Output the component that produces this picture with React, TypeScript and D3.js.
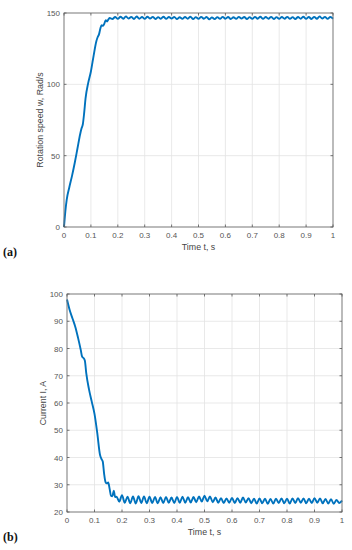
import React from "react";
import * as d3 from "d3";

// transient part of the speed trace (irregular time stamps)
const speedRiseT = [0, 0.005, 0.01, 0.02, 0.03, 0.04, 0.05, 0.06, 0.065, 0.07, 0.075, 0.08, 0.09, 0.1, 0.11, 0.12, 0.125, 0.13, 0.135, 0.14, 0.145, 0.15, 0.155, 0.16, 0.165, 0.17];
const speedRiseV = [0, 11, 19, 28, 36, 45, 55, 65, 69, 72, 80, 90, 101, 109, 120, 130, 133, 135, 139, 141.5, 141, 142.5, 145, 144, 145.5, 146.5];

// transient part of the current trace
const currentDropT = [0, 0.01, 0.02, 0.03, 0.04, 0.05, 0.055, 0.06, 0.065, 0.07, 0.08, 0.09, 0.1, 0.11, 0.12, 0.125, 0.13, 0.135, 0.14, 0.145, 0.15, 0.155, 0.16, 0.165, 0.17, 0.175];
const currentDropV = [98, 94, 91, 88, 84, 79.5, 77, 76.5, 75.5, 71, 65, 60.5, 56, 49, 41, 39.5, 38.5, 34, 31, 30.5, 30.8, 28.5, 26, 25.8, 27.8, 25.5];

// steady state samples shared by both traces
const steadyT = [
  0.18, 0.19, 0.2, 0.21, 0.22, 0.23, 0.24, 0.25, 0.26, 0.27, 0.28, 0.29,
  0.3, 0.31, 0.32, 0.33, 0.34, 0.35, 0.36, 0.37, 0.38, 0.39,
  0.4, 0.41, 0.42, 0.43, 0.44, 0.45, 0.46, 0.47, 0.48, 0.49,
  0.5, 0.51, 0.52, 0.53, 0.54, 0.55, 0.56, 0.57, 0.58, 0.59,
  0.6, 0.61, 0.62, 0.63, 0.64, 0.65, 0.66, 0.67, 0.68, 0.69,
  0.7, 0.71, 0.72, 0.73, 0.74, 0.75, 0.76, 0.77, 0.78, 0.79,
  0.8, 0.81, 0.82, 0.83, 0.84, 0.85, 0.86, 0.87, 0.88, 0.89,
  0.9, 0.91, 0.92, 0.93, 0.94, 0.95, 0.96, 0.97, 0.98, 0.99, 1.0,
];
const speedSteady = [
  145.8, 147.2, 145.9, 147.4, 146.0, 147.6, 146.1, 147.3, 145.8, 147.5, 146.0, 147.2,
  145.9, 147.4, 146.1, 147.3, 145.8, 147.1, 146.0, 147.4, 145.9, 147.2,
  146.1, 147.3, 145.7, 147.0, 145.9, 147.2, 146.0, 147.4, 145.8, 147.1,
  145.9, 147.3, 146.0, 147.2, 145.6, 146.9, 145.7, 147.1, 145.9, 147.3,
  146.0, 147.2, 145.8, 147.0, 145.9, 147.3, 146.1, 147.2, 145.8, 147.1,
  145.9, 147.3, 146.0, 147.4, 145.9, 147.2, 146.0, 147.3, 145.8, 147.1,
  145.9, 147.2, 146.0, 147.3, 145.9, 147.1, 145.8, 147.2, 146.0, 147.4,
  145.9, 147.2, 145.8, 147.3, 146.0, 147.6, 146.1, 147.3, 145.9, 147.2, 146.0,
];
const currentSteady = [
  25.6, 23.8, 26.2, 23.4, 25.6, 23.2, 25.7, 23.1, 25.8, 23.3, 25.7, 23.2,
  25.6, 23.3, 25.5, 23.2, 25.4, 23.3, 25.5, 23.4, 25.3, 23.3,
  25.5, 23.4, 25.6, 23.4, 25.4, 23.5, 25.5, 23.6, 25.7, 23.8,
  26.0, 23.9, 25.7, 23.6, 25.3, 23.4, 25.1, 23.3, 25.0, 23.4,
  25.2, 23.3, 25.1, 23.4, 25.3, 23.5, 25.1, 23.2, 24.9, 23.1,
  25.0, 23.2, 24.9, 23.0, 24.8, 23.1, 24.9, 23.3, 25.0, 23.2,
  24.9, 23.1, 25.0, 23.3, 25.1, 23.4, 25.0, 23.2, 24.9, 23.3,
  25.1, 23.4, 25.0, 23.2, 24.8, 23.1, 24.7, 23.0, 24.4, 23.3, 24.2,
];

const xTicks = [0, 0.1, 0.2, 0.3, 0.4, 0.5, 0.6, 0.7, 0.8, 0.9, 1];
const speedTicks = [0, 50, 100, 150];
const currentTicks = [20, 30, 40, 50, 60, 70, 80, 90, 100];

const FONT = "'Liberation Sans', Arial, Helvetica, sans-serif";
const BLUE = "#0072BD";

type PanelProps = {
  left: number; right: number; top: number; bottom: number;
  times: number[]; values: number[];
  yDomain: [number, number]; yTicks: number[];
  yLabel: string; tag: string; tagY: number;
};

const Panel = ({ left, right, top, bottom, times, values, yDomain, yTicks, yLabel, tag, tagY }: PanelProps) => {
  const x = d3.scaleLinear().domain([0, 1]).range([left, right]);
  const y = d3.scaleLinear().domain(yDomain).range([bottom, top]);
  const pts = times.map((t, i) => [t, values[i]] as [number, number]);
  const line = d3.line<[number, number]>()
    .x((d) => x(d[0]))
    .y((d) => y(d[1]))
    .curve(d3.curveMonotoneX);
  const tl = 2.5;
  return (
    <g fontFamily={FONT}>
      <rect x={left} y={top} width={right - left} height={bottom - top} fill="#fff" />
      {/* grid */}
      {xTicks.map((t) => (
        <line key={"gx" + t} x1={x(t)} x2={x(t)} y1={top} y2={bottom} stroke="#e3e3e3" strokeWidth={0.8} />
      ))}
      {yTicks.map((t) => (
        <line key={"gy" + t} x1={left} x2={right} y1={y(t)} y2={y(t)} stroke="#e3e3e3" strokeWidth={0.8} />
      ))}
      <path d={line(pts) || ""} fill="none" stroke={BLUE} strokeWidth={1.9} strokeLinejoin="round" />
      {/* box + inward ticks */}
      <rect x={left} y={top} width={right - left} height={bottom - top} fill="none" stroke="#777" strokeWidth={0.9} />
      {xTicks.map((t) => (
        <g key={"tx" + t} stroke="#555" strokeWidth={0.8}>
          <line x1={x(t)} x2={x(t)} y1={bottom} y2={bottom - tl} />
          <line x1={x(t)} x2={x(t)} y1={top} y2={top + tl} />
        </g>
      ))}
      {yTicks.map((t) => (
        <g key={"ty" + t} stroke="#555" strokeWidth={0.8}>
          <line x1={left} x2={left + tl} y1={y(t)} y2={y(t)} />
          <line x1={right} x2={right - tl} y1={y(t)} y2={y(t)} />
        </g>
      ))}
      {xTicks.map((t) => (
        <text key={"lx" + t} x={x(t)} y={bottom + 11} fontSize={8} fill="#555" textAnchor="middle">
          {d3.format("~g")(t)}
        </text>
      ))}
      {yTicks.map((t) => (
        <text key={"ly" + t} x={left - 4} y={y(t) + 3} fontSize={8} fill="#555" textAnchor="end">
          {t}
        </text>
      ))}
      <text x={(left + right) / 2} y={bottom + 23} fontSize={8.8} fill="#444" textAnchor="middle">
        Time t, s
      </text>
      <text
        transform={`translate(${left - 21},${(top + bottom) / 2}) rotate(-90)`}
        fontSize={8.8}
        fill="#444"
        textAnchor="middle"
      >
        {yLabel}
      </text>
      <text x={3} y={tagY} fontSize={12} fontFamily="'Liberation Serif', 'Times New Roman', serif" fontWeight="bold" fill="#111">
        {tag}
      </text>
    </g>
  );
};

export default function App() {
  const speedT = [...speedRiseT, ...steadyT];
  const speedV = [...speedRiseV, ...speedSteady];
  const currT = [...currentDropT, ...steadyT];
  const currV = [...currentDropV, ...currentSteady];
  return (
    <svg width={352} height={550} style={{ position: "absolute", left: 0, top: 0, background: "#fff" }}>
      <rect width={352} height={550} fill="#fff" />
      <Panel
        left={64} right={333} top={13} bottom={227}
        times={speedT} values={speedV}
        yDomain={[0, 150]} yTicks={speedTicks}
        yLabel="Rotation speed w, Rad/s" tag="(a)" tagY={256}
      />
      <Panel
        left={67} right={342} top={294} bottom={512}
        times={currT} values={currV}
        yDomain={[20, 100]} yTicks={currentTicks}
        yLabel="Current I, A" tag="(b)" tagY={541}
      />
    </svg>
  );
}
